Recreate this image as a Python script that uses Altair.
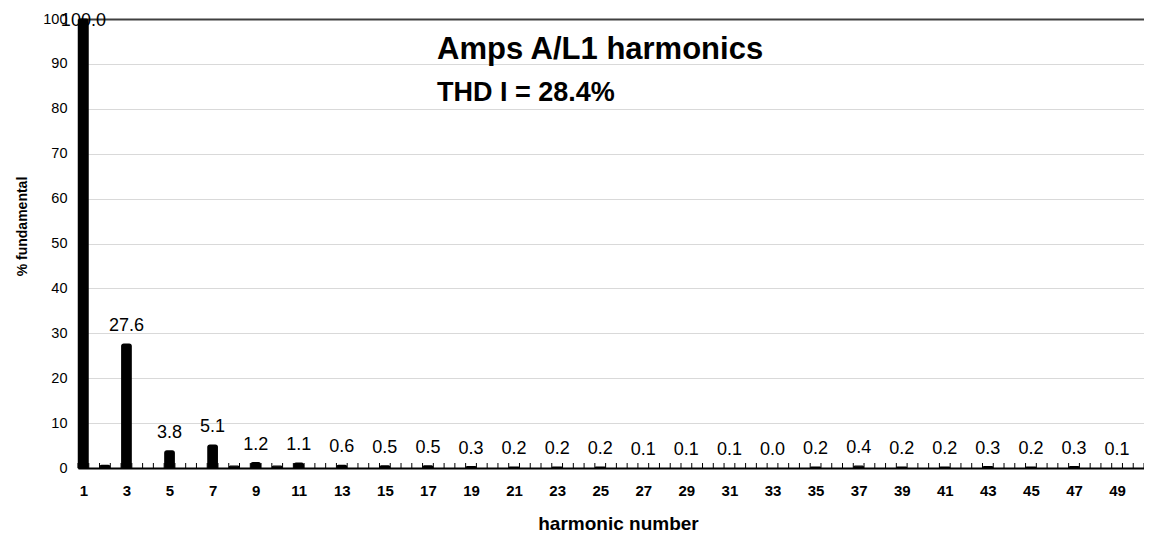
import altair as alt
import pandas as pd

# ---- data ----
harmonics = list(range(1, 51))
percent = [100.0, 0.6, 27.6, 0.0, 3.8, 0.0, 5.1, 0.4, 1.2, 0.4,
           1.1, 0.0, 0.6, 0.0, 0.5, 0.0, 0.5, 0.0, 0.3, 0.0,
           0.2, 0.0, 0.2, 0.0, 0.2, 0.0, 0.1, 0.0, 0.1, 0.0,
           0.1, 0.0, 0.0, 0.0, 0.2, 0.0, 0.4, 0.0, 0.2, 0.0,
           0.2, 0.0, 0.3, 0.0, 0.2, 0.0, 0.3, 0.0, 0.1, 0.0]
x_tick_labels = list(range(1, 50, 2))
y_tick_values = list(range(0, 101, 10))
minor_tick_positions = [0.75 + 0.5 * k for k in range(100)]

title_text = "Amps A/L1 harmonics"
subtitle_text = "THD I = 28.4%"

FONT = "Liberation Sans"

df = pd.DataFrame({"h": harmonics, "v": percent})
ticks_df = pd.DataFrame({"t": minor_tick_positions})

W, H = 1066, 449
xs = alt.Scale(domain=[0.75, 50.25], nice=False, zero=False, padding=0)
ys = alt.Scale(domain=[0, 100], nice=False, padding=0)

x_axis = alt.Axis(
    values=x_tick_labels, title="harmonic number", grid=False,
    ticks=False, tickSize=0, labelPadding=15,
    labelFont=FONT, labelFontSize=15, labelFontWeight="bold", labelColor="black",
    domainColor="black", domainWidth=2,
    titleFont=FONT, titleFontSize=19, titleFontWeight="bold", titleColor="black",
    titleBaseline="middle", titleY=55, titleX=540,
)
y_axis = alt.Axis(
    values=y_tick_values, title="% fundamental",
    ticks=False, tickSize=0, labelPadding=11,
    labelFont=FONT, labelFontSize=14.5, labelColor="black",
    domainColor="black", domainWidth=1.5,
    grid=True,
    gridColor=alt.condition("datum.value == 100", alt.value("#404040"), alt.value("#d9d9d9")),
    gridWidth=alt.condition("datum.value == 100", alt.value(2), alt.value(1)),
    titleFont=FONT, titleFontSize=14, titleFontWeight="bold", titleColor="black",
    titleX=-49, titleY=207,
)

minor = alt.Chart(ticks_df).mark_rule(color="black", strokeWidth=1).encode(
    x=alt.X("t:Q", scale=xs, axis=x_axis),
    y=alt.value(H),
    y2=alt.value(H - 5),
)

bars = alt.Chart(df).transform_filter("datum.v > 0.1").mark_bar(
    color="black", stroke="black", strokeWidth=1.2, size=9.5,
    cornerRadiusTopLeft=2, cornerRadiusTopRight=2,
).encode(
    x=alt.X("h:Q", scale=xs, axis=x_axis),
    y=alt.Y("v:Q", scale=ys, axis=y_axis),
)

labels = alt.Chart(df).transform_filter("datum.h % 2 == 1 && datum.v < 99").mark_text(
    font=FONT, fontSize=18, color="black", baseline="alphabetic", dy=-13,
).encode(
    x=alt.X("h:Q", scale=xs),
    y=alt.Y("v:Q", scale=ys),
    text=alt.Text("v:Q", format=".1f"),
)

top_label = alt.Chart(df).transform_filter("datum.v >= 99").mark_text(
    font=FONT, fontSize=18, color="black", baseline="alphabetic", dy=7,
).encode(
    x=alt.X("h:Q", scale=xs),
    y=alt.Y("v:Q", scale=ys),
    text=alt.Text("v:Q", format=".1f"),
)

chart = alt.layer(minor, bars, labels, top_label).properties(
    width=W, height=H,
    autosize="none",
    padding={"left": 70, "top": 11, "right": 0, "bottom": 65},
    title=alt.TitleParams(
        text=title_text, subtitle=subtitle_text,
        anchor="start", orient="top", frame="group", dx=359, offset=-96,
        font=FONT, fontSize=31, fontWeight="bold", color="black",
        subtitleFont=FONT, subtitleFontSize=27, subtitleFontWeight="bold",
        subtitleColor="black", subtitlePadding=14,
    ),
).configure_view(stroke=None).configure(background="white")

chart.save("out.html", embed_options={"renderer": "svg", "actions": False})
